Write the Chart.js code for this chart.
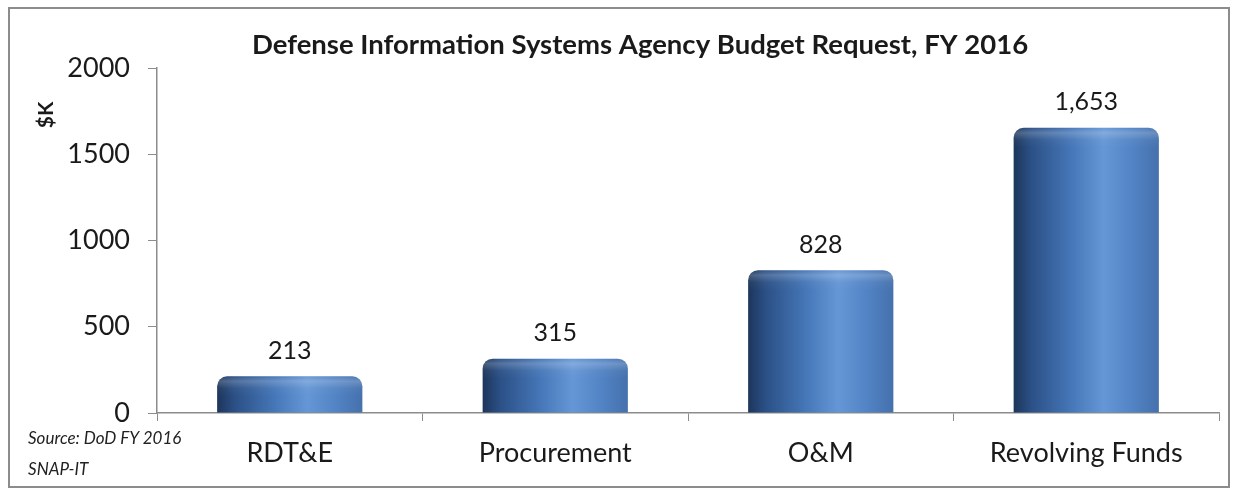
<!DOCTYPE html>
<html lang="en">
<head>
    <meta charset="UTF-8">
    <title>DISA Budget Request FY 2016</title>
    <script src="https://cdn.jsdelivr.net/npm/chart.js"></script>
    <style>
        body { margin: 0; padding: 0; background: #fff; }
        #frame {
            position: absolute;
            left: 8px; top: 7px;
            width: 1218px; height: 477px;
            border: 2px solid #8c8c8c;
            background: #fff;
        }
        #chart { display: block; }
        .source {
            position: absolute;
            left: 18px;
            font-family: Lato, "Open Sans", sans-serif;
            font-style: italic;
            font-size: 17px;
            color: #222;
        }
    </style>
</head>
<body>

<div id="frame">
    <canvas id="chart" width="1218" height="477"></canvas>
    <div class="source" style="top:418px;">Source: DoD FY 2016</div>
    <div class="source" style="top:449px;">SNAP-IT</div>
</div>

<script>
    // chart data
    const categories = ['RDT&E', 'Procurement', 'O&M', 'Revolving Funds'];
    const budget = [213, 315, 828, 1653];
    const yTicks = [0, 500, 1000, 1500, 2000];

    const FONT = 'Lato, "Open Sans", sans-serif';
    const TITLE = 'Defense Information Systems Agency Budget Request, FY 2016';

    // horizontal shading across each bar, like the cylinder look
    function barGradient(context) {
        const chart = context.chart;
        const xs = chart.scales.x;
        if (!chart.chartArea || !xs) return '#4a7dbf';
        const cx = xs.getPixelForValue(context.dataIndex);
        const w = (xs.width / categories.length) * 0.547;
        const g = chart.ctx.createLinearGradient(cx - w / 2, 0, cx + w / 2, 0);
        g.addColorStop(0, '#1d355a');
        g.addColorStop(0.12, '#2b5086');
        g.addColorStop(0.4, '#4677b8');
        g.addColorStop(0.62, '#6596d5');
        g.addColorStop(0.82, '#5283c4');
        g.addColorStop(1, '#4571ad');
        return g;
    }

    // light band on the rounded top of each bar
    const topShine = {
        id: 'topShine',
        afterDatasetsDraw(chart) {
            const ctx = chart.ctx;
            chart.getDatasetMeta(0).data.forEach((bar) => {
                const left = bar.x - bar.width / 2;
                const top = bar.y;
                const h = Math.min(20, bar.base - bar.y);
                ctx.save();
                ctx.beginPath();
                ctx.roundRect(left, top, bar.width, h, [10, 10, 0, 0]);
                ctx.clip();
                const g = ctx.createLinearGradient(0, top, 0, top + h);
                g.addColorStop(0, 'rgba(255,255,255,0.03)');
                g.addColorStop(0.25, 'rgba(255,255,255,0.2)');
                g.addColorStop(0.6, 'rgba(255,255,255,0.04)');
                g.addColorStop(1, 'rgba(255,255,255,0)');
                ctx.fillStyle = g;
                ctx.fillRect(left, top, bar.width, h);
                ctx.restore();
            });
        }
    };

    // value labels above bars
    const valueLabels = {
        id: 'valueLabels',
        afterDatasetsDraw(chart) {
            const ctx = chart.ctx;
            ctx.save();
            ctx.font = '25px ' + FONT;
            ctx.fillStyle = '#1a1a1a';
            ctx.textAlign = 'center';
            ctx.textBaseline = 'bottom';
            chart.getDatasetMeta(0).data.forEach((bar, i) => {
                ctx.fillText(budget[i].toLocaleString('en-US'), bar.x, bar.y - 13);
            });
            ctx.restore();
        }
    };

    // chart title and the "$K" axis title near the top of the value axis
    const titles = {
        id: 'titles',
        afterDraw(chart) {
            const ctx = chart.ctx;
            ctx.save();
            ctx.fillStyle = '#1a1a1a';
            ctx.textAlign = 'center';
            ctx.textBaseline = 'middle';
            ctx.font = 'bold 27.5px ' + FONT;
            ctx.fillText(TITLE, 630, 36);
            ctx.font = 'bold 21px ' + FONT;
            ctx.translate(36, chart.scales.y.top + 47);
            ctx.rotate(-Math.PI / 2);
            ctx.fillText('$K', 0, 0);
            ctx.restore();
        }
    };

    const ctx = document.getElementById('chart').getContext('2d');
    const chart = new Chart(ctx, {
        type: 'bar',
        data: {
            labels: categories,
            datasets: [{
                data: budget,
                backgroundColor: barGradient,
                borderWidth: 0,
                borderRadius: { topLeft: 10, topRight: 10, bottomLeft: 0, bottomRight: 0 },
                borderSkipped: 'bottom',
                barPercentage: 0.547,
                categoryPercentage: 1
            }]
        },
        options: {
            responsive: false,
            animation: false,
            layout: { padding: { left: 0, right: 9, top: 59, bottom: 0 } },
            plugins: {
                legend: { display: false },
                tooltip: { enabled: false },
                title: { display: false }
            },
            scales: {
                x: {
                    grid: {
                        display: true,
                        drawOnChartArea: false,
                        drawTicks: true,
                        tickLength: 8,
                        color: '#8c8c8c',
                        offset: true
                    },
                    border: { color: '#8c8c8c', width: 1.5 },
                    ticks: {
                        color: '#1a1a1a',
                        font: { family: FONT, size: 27 },
                        padding: 16
                    },
                    afterFit(axis) { axis.height = 73; }
                },
                y: {
                    min: 0,
                    max: 2000,
                    afterBuildTicks(axis) { axis.ticks = yTicks.map(v => ({ value: v })); },
                    grid: {
                        display: true,
                        drawOnChartArea: false,
                        drawTicks: true,
                        tickLength: 9,
                        color: '#8c8c8c'
                    },
                    border: { color: '#8c8c8c', width: 1.5 },
                    ticks: {
                        color: '#1a1a1a',
                        font: { family: FONT, size: 27 },
                        padding: 18,
                        callback: (v) => String(v)
                    },
                    afterFit(axis) { axis.width = 147; }
                }
            }
        },
        plugins: [topShine, valueLabels, titles]
    });
</script>

</body>
</html>
